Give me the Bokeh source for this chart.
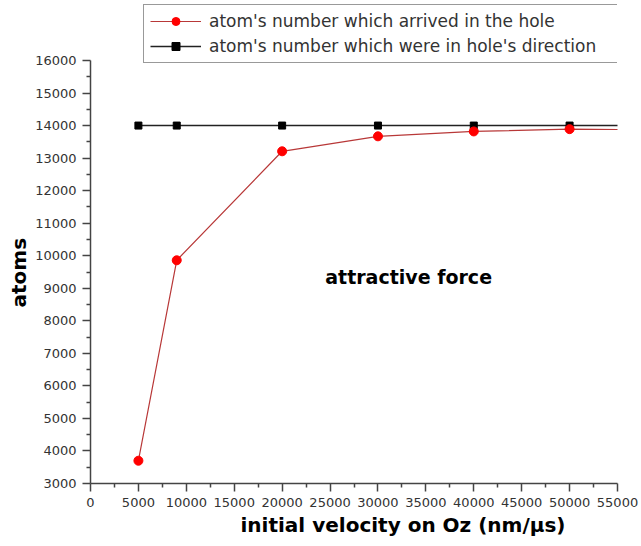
from bokeh.plotting import figure
from bokeh.models import FixedTicker, Legend, LegendItem, Label, Title, Range1d
from bokeh.embed import file_html
from bokeh.resources import INLINE

# initial velocity on Oz (nm/us); the last sample lies past the axis end
velocity = [5000, 9000, 20000, 30000, 40000, 50000, 60000]
# atoms that reached the hole
arrived = [3700, 9860, 13210, 13670, 13820, 13890, 13870]
# atoms that were heading in the hole's direction
in_direction = [14000, 14000, 14000, 14000, 14000, 14000, 14000]

x_ticks = [0, 5000, 10000, 15000, 20000, 25000, 30000, 35000, 40000, 45000, 50000, 55000]
y_ticks = [3000, 4000, 5000, 6000, 7000, 8000, 9000, 10000, 11000, 12000, 13000,
           14000, 15000, 16000]

label_arrived = "atom's number which arrived in the hole"
label_direction = "atom's number which were in hole's direction"

# plot area runs to the top edge so the legend can sit over the axis top;
# the y axis itself is bounded to 3000..16000 (423 px for 13000 atoms)
FRAME_H = 483
AXIS_PX = 423
y_lo, y_hi = y_ticks[0], y_ticks[-1]
y_top = y_lo + (y_hi - y_lo) * FRAME_H / AXIS_PX

p = figure(width=641, height=546, output_backend="svg", toolbar_location=None,
           x_range=Range1d(0, 55000), y_range=Range1d(y_lo, y_top),
           min_border_left=90, min_border_right=24, min_border_top=0,
           min_border_bottom=63)
p.outline_line_color = None
p.grid.visible = False
p.background_fill_color = "white"
p.border_fill_color = "white"

p.xaxis.ticker = FixedTicker(ticks=x_ticks,
                             minor_ticks=[t + 2500 for t in x_ticks[:-1]])
p.yaxis.ticker = FixedTicker(ticks=y_ticks,
                             minor_ticks=[t + 500 for t in y_ticks[:-1]])
p.yaxis.bounds = (y_lo, y_hi)

for ax in (p.xaxis[0], p.yaxis[0]):
    ax.axis_line_color = "#444444"
    ax.axis_line_width = 1.5
    ax.major_tick_line_color = "#444444"
    ax.major_tick_line_width = 1.5
    ax.minor_tick_line_color = "#444444"
    ax.minor_tick_line_width = 1.5
    ax.major_tick_out = 8
    ax.major_tick_in = 0
    ax.minor_tick_out = 4
    ax.minor_tick_in = 0
    ax.major_label_text_font = "DejaVu Sans"
    ax.major_label_text_font_size = "13px"
    ax.major_label_text_color = "#333333"
    ax.major_label_standoff = 6

# axis titles, placed along the bounded part of each axis
p.add_layout(Title(text="atoms", align="left", offset=176,
                   text_font="DejaVu Sans", text_font_size="20px",
                   text_font_style="bold", text_color="black", standoff=4), "left")
p.add_layout(Title(text="initial velocity on Oz (nm/\u03bcs)", align="left", offset=150,
                   text_font="DejaVu Sans", text_font_size="20px",
                   text_font_style="bold", text_color="black", standoff=2), "below")

# series
dir_line = p.line(velocity, in_direction, line_color="#222222", line_width=1.5)
dir_pts = p.scatter(velocity, in_direction, marker="square", size=7,
                    fill_color="black", line_color="black")
arr_line = p.line(velocity, arrived, line_color="#b83838", line_width=1.2)
arr_pts = p.scatter(velocity, arrived, marker="circle", size=9,
                    fill_color="#ff0000", line_color="#ff0000")

p.add_layout(Label(x=24500, y=9360, text="attractive force", text_font="DejaVu Sans",
                   text_font_size="19px", text_font_style="bold",
                   text_baseline="middle", text_color="black"))

legend = Legend(items=[LegendItem(label=label_arrived, renderers=[arr_line, arr_pts]),
                       LegendItem(label=label_direction, renderers=[dir_line, dir_pts])],
                location=(53, 420), padding=6, spacing=5, margin=0,
                glyph_width=51, glyph_height=20, label_height=20, label_width=409,
                label_standoff=8, label_text_font="DejaVu Sans",
                label_text_font_size="17px", label_text_color="#333333",
                border_line_color="#333333", border_line_width=1,
                background_fill_color="white", background_fill_alpha=1.0)
p.add_layout(legend)

open("out.html", "w").write(file_html(p, INLINE))
